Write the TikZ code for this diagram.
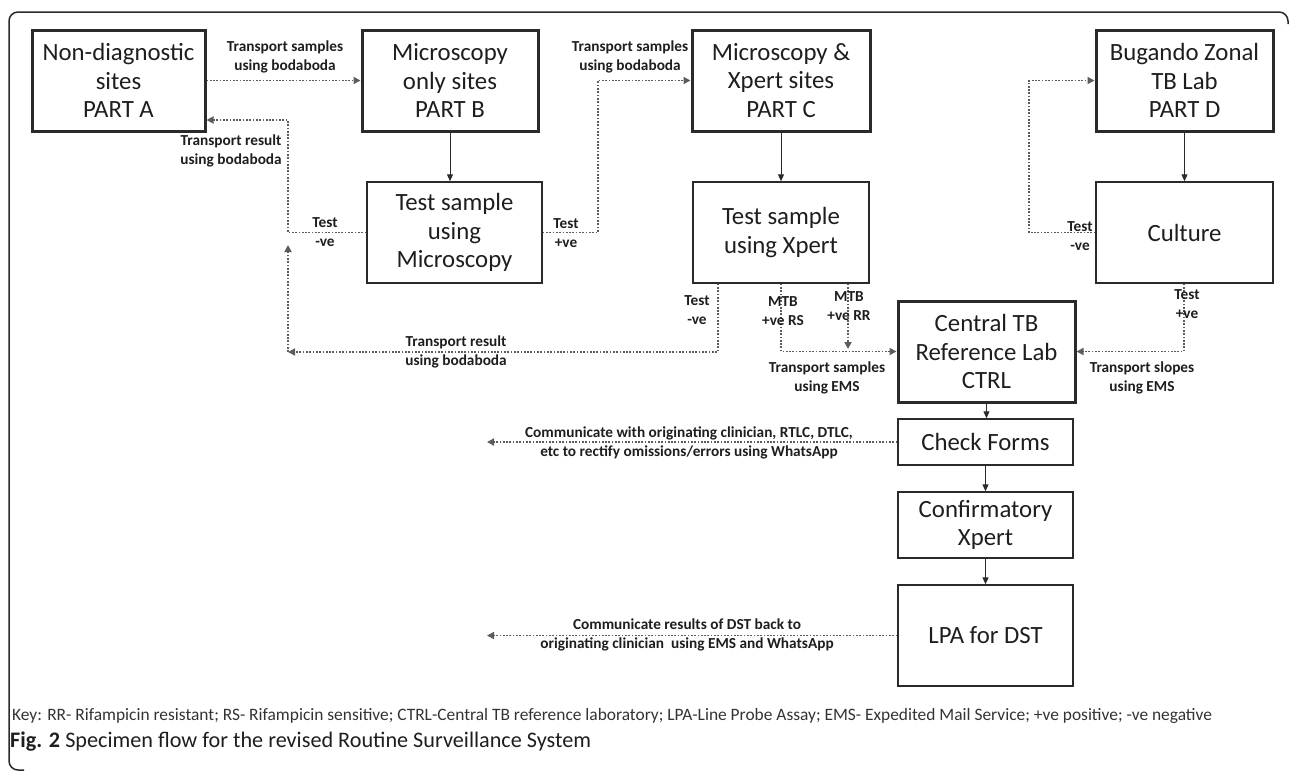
\documentclass[tikz,border=0pt]{standalone}
\usepackage{fontspec}
\setmainfont{Carlito}
\usetikzlibrary{arrows.meta}
\definecolor{txt}{HTML}{1E1E1E}
\definecolor{lin}{HTML}{2A2A2A}
\definecolor{dotc}{HTML}{5C5C5C}
\definecolor{keyc}{HTML}{333333}
\begin{document}
\begin{tikzpicture}[x=1pt,y=-1pt,
  every node/.style={text=txt},
  bx/.style={draw=lin, line width=1.5pt, align=center, inner sep=0pt, font=\fontsize{24.8}{28.5}\selectfont},
  bxthick/.style={bx, line width=3pt},
  lbl/.style={align=center, inner sep=0pt, font=\fontsize{15.3}{19}\selectfont\bfseries},
  solidarrow/.style={draw=lin, line width=1pt, -{Triangle[length=7pt,width=6pt]}},
  dotline/.style={draw=dotc, line width=1.7pt, dash pattern=on 1.7pt off 1.6pt},
  dotarrow/.style={dotline, -{Triangle[length=7pt,width=7pt]}}]
\useasboundingbox (0,0) rectangle (1290,772);
% frame
\draw[draw=lin, line width=1.5pt, rounded corners=9pt] (1288,24) -- (1288,12) -- (9,12) -- (9,770) -- (24,770);

% boxes
\node[bxthick, minimum width=173pt, minimum height=101pt] (A) at (118.5,80.5) {Non-diagnostic\\sites\\PART A};
\node[bxthick, minimum width=176pt, minimum height=101pt] (B) at (450,80.5) {Microscopy\\only sites\\PART B};
\node[bxthick, minimum width=178pt, minimum height=101pt] (C) at (781,80.5) {Microscopy \&\\Xpert sites\\PART C};
\node[bxthick, minimum width=177pt, minimum height=101pt] (D) at (1184.5,80.5) {Bugando Zonal\\TB Lab\\PART D};
\node[bx, minimum width=175pt, minimum height=101pt] (M) at (454.5,232.5) {Test sample\\using\\Microscopy};
\node[bx, minimum width=176pt, minimum height=101pt] (X) at (781,232.5) {Test sample\\using Xpert};
\node[bx, minimum width=177pt, minimum height=101pt] (U) at (1184.5,232.5) {Culture};
\node[bxthick, minimum width=177pt, minimum height=101pt] (R) at (986.5,351.5) {Central TB\\Reference Lab\\CTRL};
\node[bx, minimum width=175pt, minimum height=46pt] (F) at (985.5,442) {Check Forms};
\node[bx, minimum width=175pt, minimum height=66pt] (Q) at (985.5,525) {Confirmatory\\Xpert};
\node[bx, minimum width=175pt, minimum height=101pt] (L) at (985.5,635.5) {LPA for DST};

% solid arrows
\draw[solidarrow] (B.south) -- (B.south |- M.north);
\draw[solidarrow] (C.south) -- (C.south |- X.north);
\draw[solidarrow] (D.south) -- (U.north);
\draw[solidarrow] (R.south) -- (R.south |- F.north);
\draw[solidarrow] (F.south) -- (Q.north);
\draw[solidarrow] (Q.south) -- (L.north);

% helper coordinates
\coordinate (j1) at (288,232.5);
\coordinate (j1up) at (288,120);
\coordinate (j2) at (288,352);
\coordinate (j2t) at (288,245);
\coordinate (xneg) at (718,352);
\coordinate (rs) at (781,351.5);
\coordinate (rr) at (848,349);
\coordinate (cp) at (1184,351.5);
\coordinate (mp2) at (598,80.5);
\coordinate (up) at (1029,80.5);
\coordinate (f1) at (487,442);

% dotted connectors
\draw[dotarrow] (A.east) -- (B.west);
\draw[dotarrow] (M.west) -- (j1) -- (j1up) -- (A.east |- j1up);
\draw[dotarrow] (j2) -- (j2t);
\draw[dotarrow] (X.south -| xneg) -- (xneg) -- (j2);
\draw[dotarrow] (X.south -| rs) -- (rs) -- (R.west);
\draw[dotarrow] (X.south -| rr) -- (rr);
\draw[dotarrow] (U.south -| cp) -- (cp) -- (R.east);
\draw[dotarrow] (M.east) -- (M.east -| mp2) -- (mp2) -- (C.west);
\draw[dotarrow] (U.west) -- (U.west -| up) -- (up) -- (D.west);
\draw[dotarrow] (F.west) -- (F.west -| f1);
\draw[dotarrow] (L.west) -- (L.west -| f1);

% labels
\node[lbl] (lAB) at (285,56.5) {Transport samples\\using bodaboda};
\node[lbl] (lMneg) at (325,232.5) {Test\\-ve};
\node[lbl] (lTR1) at (231,151) {Transport result\\using bodaboda};
\node[lbl] (lMpos) at (566,233) {Test\\+ve};
\node[lbl] (lBC) at (630,56.5) {Transport samples\\using bodaboda};
\node[lbl] (lUneg) at (1080,236) {Test\\-ve};
\node[lbl] (lXneg) at (697,310.5) {Test\\-ve};
\node[lbl] (lRS) at (783,311) {MTB\\+ve RS};
\node[lbl] (lRR) at (849,306.5) {MTB\\+ve RR};
\node[lbl] (lEMS) at (827,378) {Transport samples\\using EMS};
\node[lbl] (lTR2) at (456,351.5) {Transport result\\using bodaboda};
\node[lbl] (lUpos) at (1187,304.5) {Test\\+ve};
\node[lbl] (lSl) at (1142,377.5) {Transport slopes\\using EMS};
\node[lbl] (lCom1) at (689,443) {Communicate with originating clinician, RTLC, DTLC,\\etc to rectify omissions/errors using WhatsApp};
\node[lbl] (lCom2) at (687,635) {Communicate results of DST back to\\originating clinician~ using EMS and WhatsApp};

% key and caption
\node[anchor=west, inner sep=0pt, text=keyc, font=\fontsize{17.4}{19}\selectfont] (key) at (12,716) {Key: RR- Rifampicin resistant; RS- Rifampicin sensitive; CTRL-Central TB reference laboratory; LPA-Line Probe Assay; EMS- Expedited Mail Service; +ve positive; -ve negative};
\node[anchor=west, inner sep=0pt, font=\fontsize{22.2}{24}\selectfont] (cap) at (10,742) {\textbf{Fig. 2} Specimen flow for the revised Routine Surveillance System};
\end{tikzpicture}
\end{document}
